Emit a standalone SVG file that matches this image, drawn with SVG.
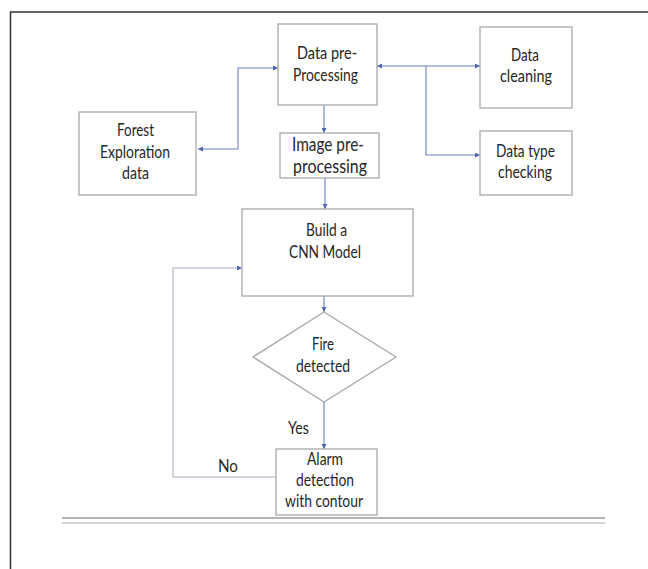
<svg xmlns="http://www.w3.org/2000/svg" width="648" height="569" viewBox="0 0 648 569">
<style>
.box{fill:#fff;stroke:#a8a8a8;stroke-width:1.3}
.t{font-family:Lato,"Open Sans","Liberation Sans",sans-serif;font-size:17px;fill:#262626;text-anchor:middle}
.big{font-size:20px}
.c{fill:none;stroke:#6a80c0;stroke-width:1.1}
.fb{fill:none;stroke:#a9afc0;stroke-width:1.1}
</style>
<defs>
<marker id="ah" viewBox="0 0 10 10" refX="10" refY="5" markerWidth="5" markerHeight="5" orient="auto-start-reverse" markerUnits="userSpaceOnUse">
<path d="M0,0 L10,5 L0,10 z" fill="#4d66b0"/>
</marker>
</defs>
<rect width="648" height="569" fill="#fff"/>
<g id="frame">
<path d="M10.5,569 V12 H648" fill="none" stroke="#333" stroke-width="1.5"/>
<line x1="62" y1="518" x2="605" y2="518" stroke="#9a9a9a" stroke-width="1.5"/>
<line x1="62" y1="523" x2="605" y2="523" stroke="#b0b0b0" stroke-width="1"/>
</g>
<g id="connectors">
<path class="c" d="M324,105 V133" marker-end="url(#ah)"/>
<path class="c" d="M325,178 V209" marker-end="url(#ah)"/>
<path class="c" d="M324,296 V312" marker-end="url(#ah)"/>
<path class="c" d="M324,402 V449" marker-end="url(#ah)"/>
<path class="c" d="M198,149 H238 V68 H278" marker-start="url(#ah)" marker-end="url(#ah)"/>
<path class="c" d="M377,66 H480" marker-start="url(#ah)" marker-end="url(#ah)"/>
<path class="c" d="M426,66 V155 H480" marker-end="url(#ah)"/>
<path class="fb" d="M276,477 H173 V268 H242" marker-end="url(#ah)"/>
</g>
<g id="data-preprocessing">
<rect class="box" x="278" y="24" width="99" height="81"/>
<text class="t" x="327" y="59" textLength="60" lengthAdjust="spacingAndGlyphs">Data pre-</text>
<text class="t" x="325.5" y="81" textLength="65" lengthAdjust="spacingAndGlyphs">Processing</text>
</g>
<g id="data-cleaning">
<rect class="box" x="480" y="27" width="92" height="81"/>
<text class="t" x="525" y="61" textLength="28" lengthAdjust="spacingAndGlyphs">Data</text>
<text class="t" x="526" y="82" textLength="52" lengthAdjust="spacingAndGlyphs">cleaning</text>
</g>
<g id="data-type-checking">
<rect class="box" x="480" y="131" width="92" height="64"/>
<text class="t" x="525.5" y="157" textLength="59" lengthAdjust="spacingAndGlyphs">Data type</text>
<text class="t" x="525" y="178" textLength="54" lengthAdjust="spacingAndGlyphs">checking</text>
</g>
<g id="forest-exploration-data">
<rect class="box" x="79" y="112" width="117" height="83"/>
<text class="t" x="135.5" y="136" textLength="37" lengthAdjust="spacingAndGlyphs">Forest</text>
<text class="t" x="135" y="158" textLength="70" lengthAdjust="spacingAndGlyphs">Exploration</text>
<text class="t" x="135.5" y="179" textLength="27" lengthAdjust="spacingAndGlyphs">data</text>
</g>
<g id="image-preprocessing">
<rect class="box" x="280" y="133" width="99" height="45"/>
<text class="t big" x="328" y="151" textLength="72" lengthAdjust="spacingAndGlyphs">Image pre-</text>
<text class="t big" x="330" y="173" textLength="74" lengthAdjust="spacingAndGlyphs">processing</text>
</g>
<g id="build-cnn-model">
<rect class="box" x="242" y="209" width="171" height="87"/>
<text class="t" x="326.5" y="236" textLength="41" lengthAdjust="spacingAndGlyphs">Build a</text>
<text class="t" x="325" y="258" textLength="72" lengthAdjust="spacingAndGlyphs">CNN Model</text>
</g>
<g id="fire-detected">
<polygon points="324,312 396,357 324,402 253,357" fill="#fff" stroke="#a8a8a8" stroke-width="1.3"/>
<text class="t" x="323" y="350" textLength="22" lengthAdjust="spacingAndGlyphs">Fire</text>
<text class="t" x="323" y="372" textLength="54" lengthAdjust="spacingAndGlyphs">detected</text>
</g>
<g id="alarm-detection">
<rect class="box" x="276" y="449" width="101" height="66"/>
<text class="t" x="325" y="465" textLength="36" lengthAdjust="spacingAndGlyphs">Alarm</text>
<text class="t" x="325" y="486" textLength="58" lengthAdjust="spacingAndGlyphs">detection</text>
<text class="t" x="324" y="507" textLength="78" lengthAdjust="spacingAndGlyphs">with contour</text>
</g>
<g id="labels">
<text class="t" x="298.5" y="434" font-size="18" textLength="21" lengthAdjust="spacingAndGlyphs">Yes</text>
<text class="t" x="228" y="472" font-size="18" textLength="20" lengthAdjust="spacingAndGlyphs">No</text>
</g>
</svg>
